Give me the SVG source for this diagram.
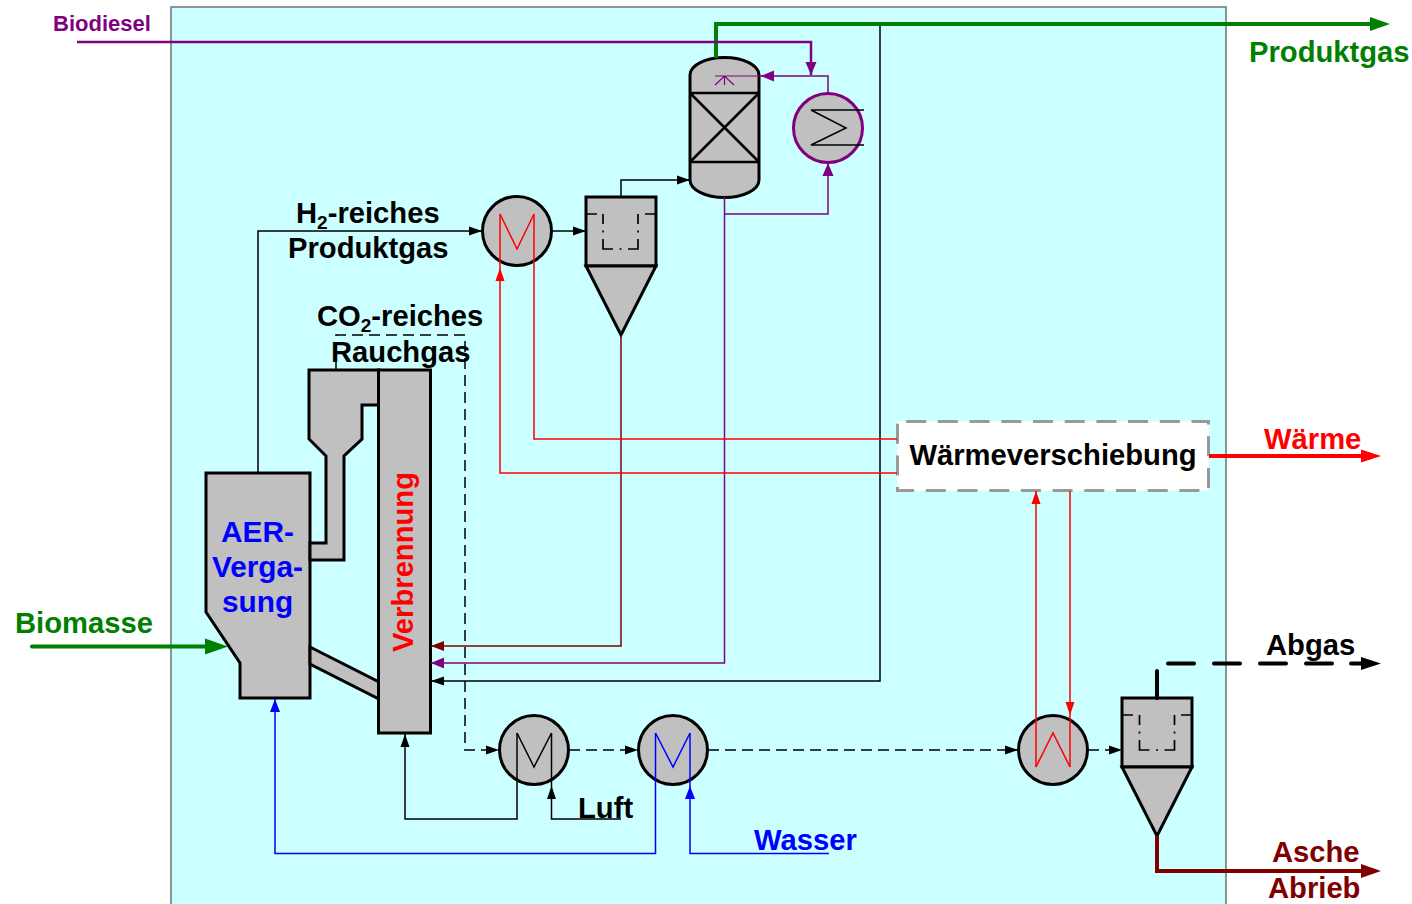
<svg xmlns="http://www.w3.org/2000/svg" width="1412" height="904" viewBox="0 0 1412 904">
<style>
.u{fill:#c0c0c0;stroke:#000;stroke-width:3;stroke-linejoin:miter}
.in{fill:none;stroke:#000;stroke-width:1.7;stroke-dasharray:20 6.500 2 6.500;stroke-dashoffset:10}
.st{fill:none;stroke:#000;stroke-width:1.7}
.t{font-family:"Liberation Sans",Arial,sans-serif;font-weight:bold;font-size:29.200px}
.b{font-size:29.800px}
</style>
<defs>
<marker id="ak" markerUnits="userSpaceOnUse" markerWidth="14" markerHeight="12" refX="13" refY="6" orient="auto"><path d="M0,1.500 L13,6 L0,10.500 Z" fill="#000"/></marker>
<marker id="ar" markerUnits="userSpaceOnUse" markerWidth="14" markerHeight="12" refX="13" refY="6" orient="auto"><path d="M0,1.500 L13,6 L0,10.500 Z" fill="#f00"/></marker>
<marker id="ab" markerUnits="userSpaceOnUse" markerWidth="14" markerHeight="12" refX="13" refY="6" orient="auto"><path d="M0,1 L13,6 L0,11 Z" fill="#00f"/></marker>
<marker id="ap" markerUnits="userSpaceOnUse" markerWidth="14" markerHeight="12" refX="13" refY="6" orient="auto"><path d="M0,0.500 L13,6 L0,11.500 Z" fill="#800080"/></marker>
<marker id="ad" markerUnits="userSpaceOnUse" markerWidth="14" markerHeight="12" refX="13" refY="6" orient="auto"><path d="M0,1 L13,6 L0,11 Z" fill="#800000"/></marker>
<marker id="hg" markerUnits="userSpaceOnUse" markerWidth="22" markerHeight="16" refX="1" refY="8" orient="auto"><path d="M0,1 L20,8 L0,15 Z" fill="#008000"/></marker>
<marker id="hG" markerUnits="userSpaceOnUse" markerWidth="25" markerHeight="18" refX="1" refY="9" orient="auto"><path d="M0,1 L23,9 L0,17 Z" fill="#008000"/></marker>
<marker id="hr" markerUnits="userSpaceOnUse" markerWidth="22" markerHeight="16" refX="1" refY="8" orient="auto"><path d="M0,1.500 L20,8 L0,14.500 Z" fill="#f00"/></marker>
<marker id="hk" markerUnits="userSpaceOnUse" markerWidth="22" markerHeight="16" refX="1" refY="8" orient="auto"><path d="M0,1.500 L20,8 L0,14.500 Z" fill="#000"/></marker>
<marker id="hd" markerUnits="userSpaceOnUse" markerWidth="22" markerHeight="16" refX="1" refY="8" orient="auto"><path d="M0,1 L20,8 L0,15 Z" fill="#800000"/></marker>
</defs>
<rect id="background" x="171" y="7" width="1055" height="905" fill="#ccffff" stroke="#6a7575" stroke-width="1.500"/>

<g id="gasifier">
<path class="u" d="M206,473 H310 V698 H240 V663 L206,612 Z"/>
<text class="t b" x="257.500" y="542" text-anchor="middle" fill="#00f">AER-</text>
<text class="t b" x="257.500" y="577" text-anchor="middle" fill="#00f">Verga-</text>
<text class="t b" x="257.500" y="612" text-anchor="middle" fill="#00f">sung</text>
</g>
<g id="link">
<path class="u" d="M310,647 L379,682 V699 L310,664 Z"/>
</g>
<g id="separator">
<path class="u" d="M309,370 H379 V405 H362 V439 L344,456 V560 H310 V543 H326 V456 L309,439 Z"/>
</g>
<g id="combustion">
<rect class="u" x="378.500" y="370" width="52" height="363"/>
<text class="t" transform="translate(413,652) rotate(-90)" fill="#f00">Verbrennung</text>
</g>
<g id="column">
<path class="u" d="M690,75 A34.500,17.500 0 0 1 759,75 V180 A34.500,17.500 0 0 1 690,180 Z"/>
<path d="M690,93 H759 M690,162 H759 M690,93 L759,162 M759,93 L690,162" fill="none" stroke="#000" stroke-width="2.500"/>
<path d="M715,76 H762 M715,85 L724.500,76 L734,85 M724.500,76 V85" fill="none" stroke="#800080" stroke-width="1.200"/>
</g>
<g id="condenser">
<circle cx="828" cy="128" r="34.500" fill="#c0c0c0" stroke="#800080" stroke-width="3"/>
<path d="M811,110 H864 M811,110 L846,128 L811,145 H864" fill="none" stroke="#000" stroke-width="1.500"/>
</g>
<g id="he1">
<circle cx="517" cy="231" r="34.500" class="u"/>
<path d="M500,214 L517,249 L534,214" fill="none" stroke="#f00" stroke-width="1.500"/>
</g>
<g id="cyclone1">
<rect class="u" x="586" y="197" width="70" height="69"/>
<path class="u" d="M586,266 H656 L621,335 Z"/>
<path class="st" d="M586,214 H597 M645,214 H656"/>
<path class="in" d="M603,214 V249 H638 V214"/>
</g>
<g id="he2">
<circle cx="534" cy="750" r="34.500" class="u"/>
<path d="M517,733 L534,767 L551.500,733" fill="none" stroke="#000" stroke-width="1.500"/>
</g>
<g id="he3">
<circle cx="673" cy="750" r="34.500" class="u"/>
<path d="M655.500,733 L673,767 L690,733" fill="none" stroke="#00f" stroke-width="1.500"/>
</g>
<g id="he4">
<circle cx="1053" cy="750" r="34.500" class="u"/>
<path d="M1036,767 L1053,733 L1070,767" fill="none" stroke="#f00" stroke-width="1.500"/>
</g>
<g id="cyclone2">
<rect class="u" x="1122" y="698" width="70" height="69"/>
<path class="u" d="M1122,767 H1192 L1157,836 Z"/>
<path class="st" d="M1122,715 H1133 M1181,715 H1192"/>
<path class="in" d="M1139.500,715 V750 H1174.500 V715"/>
</g>
<g id="shift">
<rect x="897.500" y="421.500" width="311" height="69" fill="#fff" stroke="#999" stroke-width="3" stroke-dasharray="20 11.700" stroke-dashoffset="-8.700"/>
<text class="t" x="1053" y="465" text-anchor="middle" fill="#000">Wärmeverschiebung</text>
</g>

<g id="connectors" fill="none">
<path d="M880,24 V681 H431" stroke="#000" stroke-width="1.500" marker-end="url(#ak)"/>
<path d="M716,58 V24 H1371" stroke="#008000" stroke-width="4" marker-end="url(#hg)"/>
<path d="M77,42 H811 V75" stroke="#800080" stroke-width="2.500" marker-end="url(#ap)"/>
<path d="M828,93 V76 H761" stroke="#800080" stroke-width="1.500" marker-end="url(#ap)"/>
<path d="M724.500,197 V663 H431" stroke="#800080" stroke-width="1.500" marker-end="url(#ap)"/>
<path d="M724.500,214 H828 V163" stroke="#800080" stroke-width="1.500" marker-end="url(#ap)"/>
<path d="M258,473 V231 H482" stroke="#000" stroke-width="1.500" marker-end="url(#ak)"/>
<path d="M552,231 H586" stroke="#000" stroke-width="1.500" marker-end="url(#ak)"/>
<path d="M621,197 V180 H690" stroke="#000" stroke-width="1.500" marker-end="url(#ak)"/>
<path d="M621,335 V646 H431" stroke="#800000" stroke-width="1.500" marker-end="url(#ad)"/>
<path d="M897,473 H500 V268" stroke="#f00" stroke-width="1.500" marker-end="url(#ar)"/>
<path d="M500,268 V214" stroke="#f00" stroke-width="1.500"/>
<path d="M534,214 V439 H897" stroke="#f00" stroke-width="1.500"/>
<path d="M336,370 V335 H465 V750 H499" stroke="#000" stroke-width="1.500" stroke-dasharray="11 6" marker-end="url(#ak)"/>
<path d="M569,750 H638" stroke="#000" stroke-width="1.500" stroke-dasharray="11 6" marker-end="url(#ak)"/>
<path d="M708,750 H1018" stroke="#000" stroke-width="1.500" stroke-dasharray="11 6" marker-end="url(#ak)"/>
<path d="M1088,750 H1122" stroke="#000" stroke-width="1.500" stroke-dasharray="11 6" marker-end="url(#ak)"/>
<path d="M517,733 V819 H405 V734" stroke="#000" stroke-width="1.500" marker-end="url(#ak)"/>
<path d="M551.500,733 V786" stroke="#000" stroke-width="1.500"/>
<path d="M621,819 H551.500 V786" stroke="#000" stroke-width="1.500" marker-end="url(#ak)"/>
<path d="M655.500,733 V853.500 H275 V699" stroke="#00f" stroke-width="1.500" marker-end="url(#ab)"/>
<path d="M690,733 V786" stroke="#00f" stroke-width="1.500"/>
<path d="M829,853.500 H690 V786" stroke="#00f" stroke-width="1.500" marker-end="url(#ab)"/>
<path d="M1036,767 V491" stroke="#f00" stroke-width="1.500" marker-end="url(#ar)"/>
<path d="M1070,491 V715" stroke="#f00" stroke-width="1.500" marker-end="url(#ar)"/>
<path d="M1070,715 V767" stroke="#f00" stroke-width="1.500"/>
<path d="M1157,698 V671" stroke="#000" stroke-width="4" stroke-linecap="round"/>
<path d="M1168,663.500 H1340" stroke="#000" stroke-width="4" stroke-dasharray="26 20" stroke-linecap="round"/>
<path d="M1351,663.500 H1362" stroke="#000" stroke-width="4" stroke-linecap="round" marker-end="url(#hk)"/>
<path d="M1157,836 V871 H1362" stroke="#800000" stroke-width="4" marker-end="url(#hd)"/>
<path d="M1209,456 H1362" stroke="#f00" stroke-width="4" marker-end="url(#hr)"/>
<path d="M32,646.500 H206" stroke="#008000" stroke-width="4" stroke-linecap="round" marker-end="url(#hG)"/>
</g>

<g id="labels">
<text class="t" x="53" y="31" fill="#800080" style="font-size:22px">Biodiesel</text>
<text class="t" x="1249" y="62" fill="#008000">Produktgas</text>
<text class="t" x="296" y="223" fill="#000">H<tspan font-size="19" dy="6">2</tspan><tspan dy="-6">-reiches</tspan></text>
<text class="t" x="288" y="258" fill="#000">Produktgas</text>
<text class="t" x="317" y="326" fill="#000">CO<tspan font-size="19" dy="6">2</tspan><tspan dy="-6">-reiches</tspan></text>
<text class="t" x="331" y="362" fill="#000">Rauchgas</text>
<text class="t" x="15" y="633" fill="#008000">Biomasse</text>
<text class="t" x="1264" y="449" fill="#f00">Wärme</text>
<text class="t" x="1266" y="655" fill="#000">Abgas</text>
<text class="t" x="578" y="818" fill="#000">Luft</text>
<text class="t" x="754" y="850" fill="#00f">Wasser</text>
<text class="t" x="1272" y="862" fill="#800000">Asche</text>
<text class="t" x="1268" y="898" fill="#800000">Abrieb</text>
</g>
</svg>
